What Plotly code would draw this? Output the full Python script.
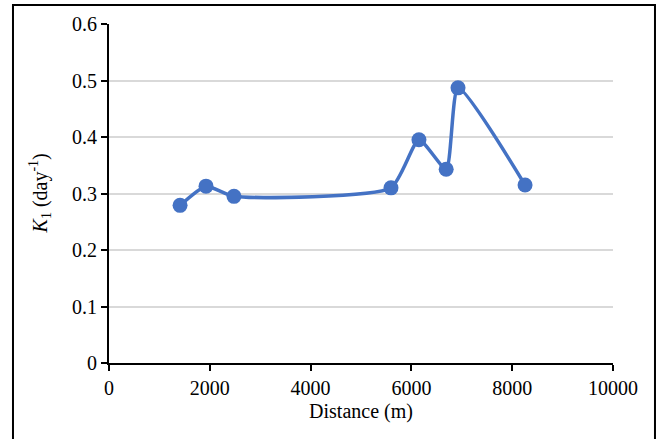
import plotly.graph_objects as go

distance = [1410, 1925, 2480, 5595, 6150, 6690, 6925, 8255]
k1 = [0.279, 0.313, 0.295, 0.310, 0.395, 0.343, 0.487, 0.315]

x_ticks = [0, 2000, 4000, 6000, 8000, 10000]
y_ticks = [0, 0.1, 0.2, 0.3, 0.4, 0.5, 0.6]
y_tick_text = ["0", "0.1", "0.2", "0.3", "0.4", "0.5", "0.6"]

FONT = "Liberation Serif, Times New Roman, serif"
BLUE = "#4472C4"

fig = go.Figure()
fig.add_trace(go.Scatter(
    x=distance, y=k1, mode="lines+markers",
    line=dict(color=BLUE, width=3.5, shape="spline", smoothing=0.55),
    marker=dict(color=BLUE, size=15),
    showlegend=False,
))

fig.update_layout(
    width=658, height=439,
    margin=dict(l=109, r=45, t=24, b=76),
    paper_bgcolor="white", plot_bgcolor="white",
    font=dict(family=FONT, size=20, color="black"),
    xaxis=dict(
        range=[0, 10000], tickvals=x_ticks, ticktext=[str(v) for v in x_ticks],
        showgrid=False, zeroline=False,
        showline=True, linecolor="black", linewidth=2,
        ticks="outside", ticklen=6, tickwidth=2, tickcolor="black",
        title=dict(text="Distance (m)", standoff=6, font=dict(family=FONT, size=20)),
        tickfont=dict(family=FONT, size=20),
    ),
    yaxis=dict(
        range=[0, 0.6], tickvals=y_ticks, ticktext=y_tick_text,
        showgrid=True, gridcolor="#d9d9d9", gridwidth=1.5, zeroline=False,
        showline=True, linecolor="black", linewidth=2,
        ticks="outside", ticklen=6, tickwidth=2, tickcolor="black",
        tickfont=dict(family=FONT, size=20),
    ),
    annotations=[dict(
        text="<i>K</i><sub>1</sub> (day<sup>-1</sup>)",
        x=-0.137, y=0.5, xref="paper", yref="paper",
        xanchor="center", yanchor="middle", textangle=-90,
        showarrow=False, font=dict(family=FONT, size=20, color="black"),
    )],
    shapes=[dict(
        type="rect", xref="paper", yref="paper",
        x0=-0.1905, x1=1.0833, y0=-0.26, y1=1.056,
        line=dict(color="black", width=2), fillcolor="rgba(0,0,0,0)",
        layer="below",
    )],
)

fig.write_html("out.html")
